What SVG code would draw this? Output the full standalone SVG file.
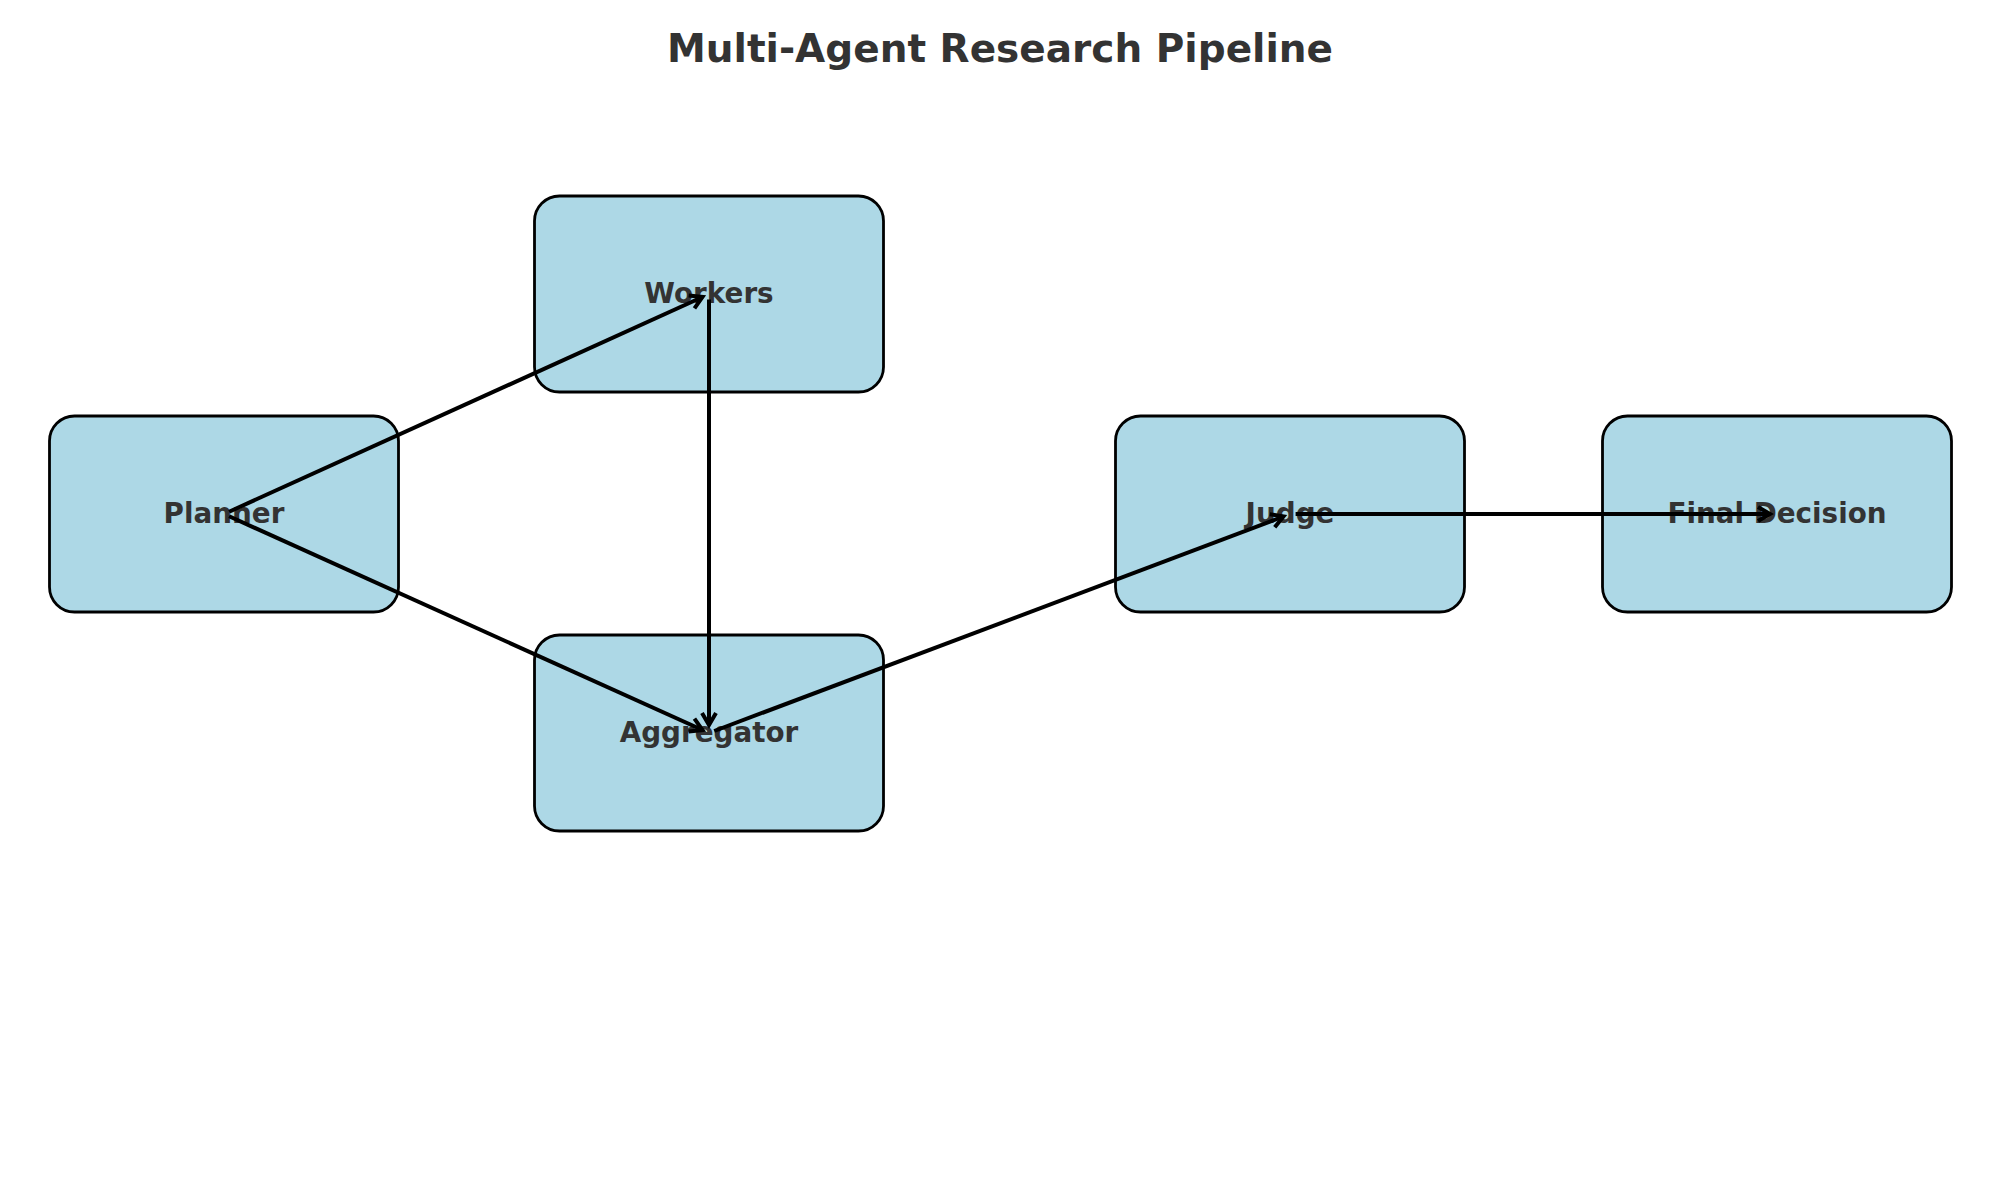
<svg xmlns="http://www.w3.org/2000/svg" width="2000" height="1200" viewBox="0 0 2000 1200">
<style>
.box{fill:#ADD8E6;stroke:#000;stroke-width:2.8}
.lbl{font-family:"DejaVu Sans",sans-serif;font-weight:bold;font-size:27.8px;fill:#333;text-anchor:middle}
.title{font-family:"DejaVu Sans",sans-serif;font-weight:bold;font-size:39px;fill:#333;text-anchor:middle}
.edge{stroke:#000;stroke-width:4;fill:none;marker-end:url(#arr)}
</style>
<defs>
<marker id="arr" markerUnits="userSpaceOnUse" markerWidth="30" markerHeight="30" viewBox="-20 -15 30 30" refX="0" refY="0" orient="auto">
<path d="M-12,-7 L0,0 L-12,7" fill="none" stroke="#000" stroke-width="4" stroke-linecap="butt" stroke-linejoin="miter"/>
</marker>
</defs>
<rect width="2000" height="1200" fill="#fff"/>
<text class="title" x="1000" y="62">Multi-Agent Research Pipeline</text>
<g id="node-planner"><rect class="box" x="49.5" y="416" width="349" height="196" rx="25"/><text class="lbl" x="224" y="523">Planner</text></g>
<g id="node-workers"><rect class="box" x="534.5" y="196" width="349" height="196" rx="25"/><text class="lbl" x="709" y="303">Workers</text></g>
<g id="node-aggregator"><rect class="box" x="534.5" y="635" width="349" height="196" rx="25"/><text class="lbl" x="709" y="742">Aggregator</text></g>
<g id="node-judge"><rect class="box" x="1115.5" y="416" width="349" height="196" rx="25"/><text class="lbl" x="1290" y="523">Judge</text></g>
<g id="node-final"><rect class="box" x="1602.5" y="416" width="349" height="196" rx="25"/><text class="lbl" x="1777" y="523">Final Decision</text></g>
<g id="connectors">
<line class="edge" x1="229.1" y1="511.7" x2="702.5" y2="297"/>
<line class="edge" x1="229.1" y1="516.3" x2="702.5" y2="730"/>
<line class="edge" x1="709" y1="299.6" x2="709" y2="725"/>
<line class="edge" x1="714.2" y1="731" x2="1283.5" y2="516.5"/>
<line class="edge" x1="1295.6" y1="514" x2="1770" y2="514"/>
</g>
</svg>
